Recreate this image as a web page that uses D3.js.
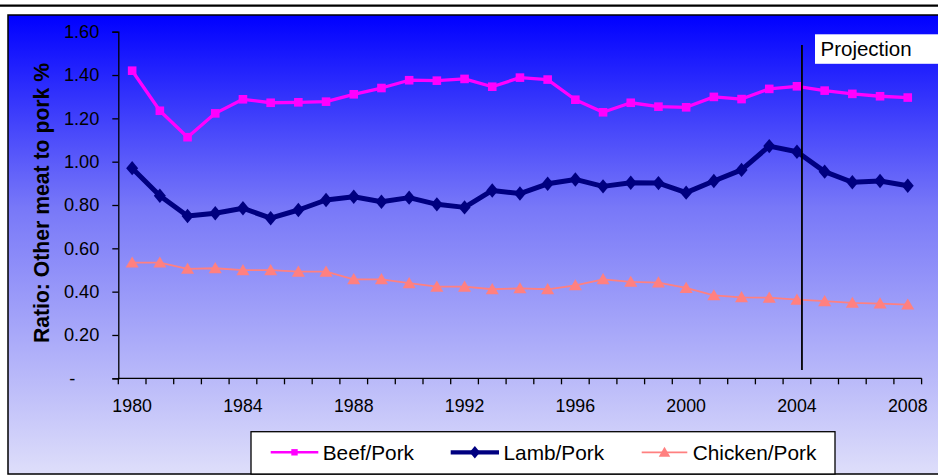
<!DOCTYPE html>
<html>
<head>
<meta charset="utf-8">
<script src="https://cdn.jsdelivr.net/npm/d3@7"></script>
<style>
  html, body { margin: 0; padding: 0; background: #ffffff; }
  svg { display: block; font-family: "Liberation Sans", Arial, sans-serif; }
</style>
</head>
<body>
<svg id="chart" width="938" height="475"></svg>
<script>
// Meat price ratios relative to pork, 1980-2008 (2005 onward projected)
const years = [1980, 1981, 1982, 1983, 1984, 1985, 1986, 1987, 1988, 1989,
               1990, 1991, 1992, 1993, 1994, 1995, 1996, 1997, 1998, 1999,
               2000, 2001, 2002, 2003, 2004, 2005, 2006, 2007, 2008];

const beefPork = [1.42, 1.235, 1.113, 1.223, 1.288, 1.272, 1.274, 1.277, 1.311, 1.340,
                  1.376, 1.374, 1.382, 1.346, 1.388, 1.379, 1.286, 1.228, 1.272, 1.254,
                  1.251, 1.299, 1.289, 1.336, 1.348, 1.328, 1.313, 1.302, 1.296];

const lambPork = [0.970, 0.843, 0.749, 0.762, 0.785, 0.739, 0.777, 0.823, 0.838, 0.815,
                  0.834, 0.803, 0.789, 0.867, 0.853, 0.898, 0.918, 0.886, 0.903, 0.901,
                  0.857, 0.911, 0.962, 1.072, 1.046, 0.954, 0.905, 0.911, 0.889];

const chickenPork = [0.534, 0.534, 0.505, 0.508, 0.499, 0.499, 0.492, 0.492, 0.457, 0.457,
                     0.439, 0.423, 0.423, 0.411, 0.415, 0.411, 0.429, 0.457, 0.445, 0.442,
                     0.417, 0.383, 0.374, 0.372, 0.363, 0.356, 0.348, 0.345, 0.340];

const seriesNames = ["Beef/Pork", "Lamb/Pork", "Chicken/Pork"];
const xTickLabels = ["1980", "1984", "1988", "1992", "1996", "2000", "2004", "2008"];
const yTickValues = [0, 0.2, 0.4, 0.6, 0.8, 1.0, 1.2, 1.4, 1.6];
const yTickLabels = ["-", "0.20", "0.40", "0.60", "0.80", "1.00", "1.20", "1.40", "1.60"];
const yAxisTitle = "Ratio: Other meat to pork %";
const projectionLabel = "Projection";
const projectionYear = 2004;

const svg = d3.select("#chart");
const plot = { left: 118.3, right: 921.6, top: 31.7, bottom: 378.3 };

// background gradient of the chart area
const defs = svg.append("defs");
const grad = defs.append("linearGradient")
  .attr("id", "bg").attr("x1", 0).attr("y1", 0).attr("x2", 0).attr("y2", 1);
grad.append("stop").attr("offset", "0%").attr("stop-color", "#0000ff");
grad.append("stop").attr("offset", "42%").attr("stop-color", "#7878f8");
grad.append("stop").attr("offset", "100%").attr("stop-color", "#dedefa");

// heavy rule across the top of the page
svg.append("line")
  .attr("x1", 0).attr("x2", 938).attr("y1", 5.7).attr("y2", 5.7)
  .attr("stroke", "#000").attr("stroke-width", 2.2);

// chart area
svg.append("rect")
  .attr("x", 8).attr("y", 15).attr("width", 940).attr("height", 459)
  .attr("fill", "url(#bg)").attr("stroke", "#000").attr("stroke-width", 1.5);

const x = d3.scaleBand().domain(years).range([plot.left, plot.right]).paddingInner(0).paddingOuter(0);
const y = d3.scaleLinear().domain([0, 1.6]).range([plot.bottom, plot.top]);
const cx = d => x(d) + x.bandwidth() / 2;

// y axis
const yAxis = d3.axisLeft(y)
  .tickValues(yTickValues)
  .tickSize(6)
  .tickPadding(13)
  .tickFormat((d, i) => yTickLabels[i]);
const gy = svg.append("g").attr("transform", `translate(${plot.left},0)`).call(yAxis);
gy.select(".domain").attr("stroke", "#000").attr("stroke-width", 1.3);
gy.selectAll(".tick line").attr("stroke", "#000").attr("stroke-width", 1.3);
gy.selectAll(".tick text")
  .attr("font-size", 18.2).attr("fill", "#000")
  .attr("font-family", "'Liberation Sans', Arial, sans-serif")
  .attr("dx", (d, i) => yTickLabels[i] === "-" ? -24 : 0);

// x axis: ticks at category boundaries, labels every fourth year
const gx = svg.append("g").attr("transform", `translate(0,${plot.bottom})`);
gx.append("line")
  .attr("x1", plot.left).attr("x2", plot.right).attr("y1", 0).attr("y2", 0)
  .attr("stroke", "#000").attr("stroke-width", 1.3);
const boundaries = years.map(d => x(d)).concat([plot.right]);
gx.selectAll("line.tick").data(boundaries).join("line")
  .attr("class", "tick")
  .attr("x1", d => d).attr("x2", d => d).attr("y1", 0).attr("y2", 6)
  .attr("stroke", "#000").attr("stroke-width", 1.3);
gx.selectAll("text").data(xTickLabels).join("text")
  .attr("x", d => cx(+d)).attr("y", 34)
  .attr("text-anchor", "middle").attr("font-size", 17.8).attr("fill", "#000")
  .text(d => d);

// y axis title
svg.append("text")
  .attr("transform", `translate(49,${(63 + 343) / 2}) rotate(-90)`)
  .attr("text-anchor", "middle")
  .attr("font-size", 21.2).attr("font-weight", "bold").attr("fill", "#000")
  .text(yAxisTitle);

// series
const series = [
  { name: seriesNames[0], values: beefPork, color: "#ff00ff", width: 3.3, marker: "square" },
  { name: seriesNames[1], values: lambPork, color: "#000080", width: 5, marker: "diamond" },
  { name: seriesNames[2], values: chickenPork, color: "#ff8080", width: 1.8, marker: "triangle" }
];

const markerPath = (type, s) => {
  if (type === "square") return `M${-s},${-s}H${s}V${s}H${-s}Z`;
  if (type === "diamond") return `M0,${-s * 1.2}L${s},0L0,${s * 1.2}L${-s},0Z`;
  return `M0,${-s}L${s * 1.05},${s * 0.8}L${-s * 1.05},${s * 0.8}Z`;
};
const markerSize = { square: 4.3, diamond: 6, triangle: 6.2 };

const line = d3.line().x((d, i) => cx(years[i])).y(d => y(d));

series.forEach(s => {
  const g = svg.append("g");
  g.append("path")
    .attr("d", line(s.values))
    .attr("fill", "none").attr("stroke", s.color)
    .attr("stroke-width", s.width).attr("stroke-linejoin", "round");
  g.selectAll("path.m").data(s.values).join("path")
    .attr("class", "m")
    .attr("transform", (d, i) => `translate(${cx(years[i])},${y(d)})`)
    .attr("d", markerPath(s.marker, markerSize[s.marker]))
    .attr("fill", s.color);
});

// projection divider
const px = cx(projectionYear) + 5;
svg.append("line")
  .attr("x1", px).attr("x2", px).attr("y1", 45).attr("y2", 370)
  .attr("stroke", "#000").attr("stroke-width", 1.8);
svg.append("rect")
  .attr("x", 815).attr("y", 34.3).attr("width", 130).attr("height", 29.5)
  .attr("fill", "#fff");
svg.append("text")
  .attr("x", 820.5).attr("y", 55.7)
  .attr("font-size", 20.5).attr("fill", "#000")
  .text(projectionLabel);

// legend
const legend = svg.append("g");
legend.append("rect")
  .attr("x", 251).attr("y", 431.7).attr("width", 584).attr("height", 42.3)
  .attr("fill", "#fff").attr("stroke", "#000").attr("stroke-width", 1.3);
const legendPos = [
  { x1: 270.7, x2: 318.3, tx: 322.7 },
  { x1: 450.7, x2: 499, tx: 503.5 },
  { x1: 641.7, x2: 687.3, tx: 692.7 }
];
const legendLineW = [2.4, 4.2, 1.7];
const legendMarker = { square: 3.2, diamond: 5.2, triangle: 5.5 };
series.forEach((s, i) => {
  const p = legendPos[i];
  const ly = 452.3;
  legend.append("line")
    .attr("x1", p.x1).attr("x2", p.x2).attr("y1", ly).attr("y2", ly)
    .attr("stroke", s.color).attr("stroke-width", legendLineW[i]);
  legend.append("path")
    .attr("transform", `translate(${(p.x1 + p.x2) / 2},${ly})`)
    .attr("d", markerPath(s.marker, legendMarker[s.marker]))
    .attr("fill", s.color);
  legend.append("text")
    .attr("x", p.tx).attr("y", 460)
    .attr("font-size", 20.8).attr("fill", "#000")
    .text(s.name);
});
</script>
</body>
</html>
